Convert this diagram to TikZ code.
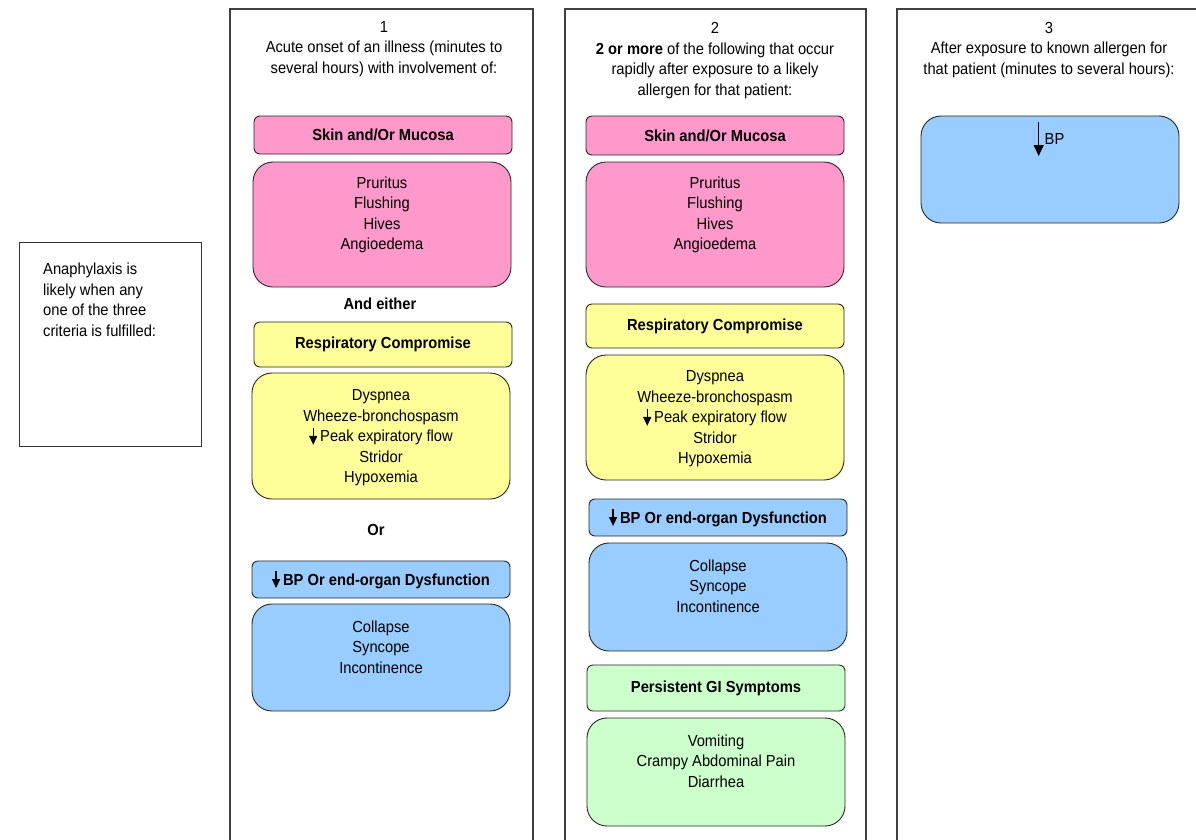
\documentclass[tikz,border=0pt]{standalone}
\usepackage{fontspec}
\setmainfont{Liberation Sans}[FakeStretch=0.92]
\usetikzlibrary{arrows.meta}
\definecolor{skinpink}{HTML}{FF99CC}
\definecolor{respyellow}{HTML}{FFFF99}
\definecolor{bpblue}{HTML}{99CCFF}
\definecolor{gigreen}{HTML}{CCFFCC}
% small filled down arrow used in the texts
\newcommand{\downarr}[3][8pt]{\tikz[baseline=0pt]\draw[line width=1.3pt,-{Triangle[width=#1,length=#1+1pt]}] (0pt,#2) -- (0pt,#3);}
\begin{document}
\begin{tikzpicture}[x=1pt,y=-1pt,
		txt/.style={align=center, inner sep=0pt, font=\fontsize{16}{20.5}\selectfont},
		bold/.style={txt, font=\fontsize{16}{20.5}\selectfont\bfseries},
		frame/.style={draw=black!75, line width=1.3pt},
		hdr/.style={bold, draw=black!85, line width=0.9pt, rounded corners=6pt, minimum width=258pt},
		body/.style={draw=black!85, line width=0.9pt, rounded corners=20pt, minimum width=258pt}]
	\useasboundingbox (0,0) rectangle (1196,839);
	% left box
	\node[draw=black!80, line width=1pt, minimum width=182pt, minimum height=204pt] (ana) at (110,344) {};
	\node[txt, align=left, anchor=north west] (anatxt) at (43,263) {Anaphylaxis is\\likely when any\\one of the three\\criteria is fulfilled:};
	% column frames
	\draw[frame] (230,860) -- (230,9) -- (533,9) -- (533,860);
	\draw[frame] (565,860) -- (565,9) -- (866,9) -- (866,860);
	\draw[frame] (897,860) -- (897,9) -- (1210,9);
	% column 1
	\node[txt] (c1head) at (384,49) {1\\Acute onset of an illness (minutes to\\several hours) with involvement of:};
	\node[hdr, fill=skinpink, minimum height=38pt] (c1skin) at (383,135) {Skin and/Or Mucosa};
	\node[body, fill=skinpink, minimum height=125pt] (c1skinbody) at (382,224.5) {};
	\node[txt] (c1skintxt) at (382,215) {Pruritus\\Flushing\\Hives\\Angioedema};
	\node[bold] (either) at (380,304) {And either};
	\node[hdr, fill=respyellow, minimum height=45pt] (c1resp) at (383,344.5) {Respiratory Compromise};
	\node[body, fill=respyellow, minimum height=126pt] (c1respbody) at (381,436) {};
	\node[txt] (c1resptxt) at (381,438) {Dyspnea\\Wheeze-bronchospasm\\\downarr{14pt}{-3pt}\hspace{3pt}Peak expiratory flow\\Stridor\\Hypoxemia};
	\node[bold] (or) at (376,530) {Or};
	\node[hdr, fill=bpblue, minimum height=37pt] (c1bp) at (381,579.5) {\downarr{14pt}{-3pt}\hspace{3pt}BP Or end-organ Dysfunction};
	\node[body, fill=bpblue, minimum height=107pt] (c1bpbody) at (381,657.5) {};
	\node[txt] (c1bptxt) at (381,647) {Collapse\\Syncope\\Incontinence};
	% column 2
	\node[txt] (c2head) at (715,60.5) {2\\\textbf{2 or more} of the following that occur\\rapidly after exposure to a likely\\allergen for that patient:};
	\node[hdr, fill=skinpink, minimum height=39pt] (c2skin) at (715,135.5) {Skin and/Or Mucosa};
	\node[body, fill=skinpink, minimum height=125pt] (c2skinbody) at (715,224.5) {};
	\node[txt] (c2skintxt) at (715,215) {Pruritus\\Flushing\\Hives\\Angioedema};
	\node[hdr, fill=respyellow, minimum height=44pt] (c2resp) at (715,326) {Respiratory Compromise};
	\node[body, fill=respyellow, minimum height=125pt] (c2respbody) at (715,417.5) {};
	\node[txt] (c2resptxt) at (715,419) {Dyspnea\\Wheeze-bronchospasm\\\downarr{14pt}{-3pt}\hspace{3pt}Peak expiratory flow\\Stridor\\Hypoxemia};
	\node[hdr, fill=bpblue, minimum height=37pt] (c2bp) at (718,517.5) {\downarr{14pt}{-3pt}\hspace{3pt}BP Or end-organ Dysfunction};
	\node[body, fill=bpblue, minimum height=108pt] (c2bpbody) at (718,597) {};
	\node[txt] (c2bptxt) at (718,586) {Collapse\\Syncope\\Incontinence};
	\node[hdr, fill=gigreen, minimum height=46pt] (c2gi) at (716,688) {Persistent GI Symptoms};
	\node[body, fill=gigreen, minimum height=108pt] (c2gibody) at (716,772) {};
	\node[txt] (c2gitxt) at (716,761) {Vomiting\\Crampy Abdominal Pain\\Diarrhea};
	% column 3
	\node[txt] (c3head) at (1049,50) {3\\After exposure to known allergen for\\that patient (minutes to several hours):};
	\node[body, fill=bpblue, minimum height=107pt] (c3body) at (1050,169.5) {};
	\node[txt, anchor=base] (c3txt) at (1049,144) {\downarr[10pt]{22pt}{-12pt}\hspace{1pt}BP};
\end{tikzpicture}
\end{document}
